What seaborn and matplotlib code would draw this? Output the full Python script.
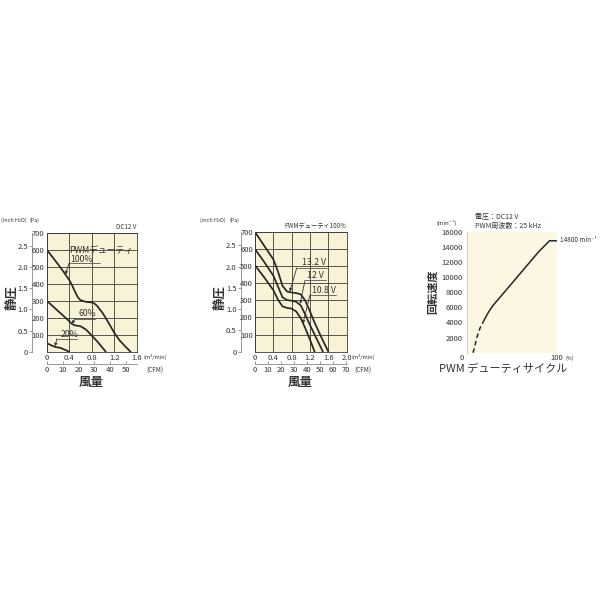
import matplotlib
matplotlib.use("Agg")
import matplotlib.pyplot as plt
import seaborn as sns
import pandas as pd

sns.set_theme(style="white")
plt.rcParams['font.family'] = ['Noto Sans CJK JP', 'DejaVu Sans']

# ---------------- data ----------------
# Panel 1: PWM duty curves (flow m3/min, static pressure Pa)
p1_x_100 = [0, 0.1, 0.2, 0.3, 0.4, 0.45, 0.5, 0.55, 0.6, 0.7, 0.8, 0.85, 0.9, 1.0, 1.1, 1.2, 1.3, 1.4, 1.49]
p1_y_100 = [600, 558, 515, 470, 422, 392, 355, 322, 303, 293, 290, 283, 268, 225, 170, 112, 65, 30, 0]
p1_x_60 = [0, 0.1, 0.2, 0.3, 0.4, 0.45, 0.5, 0.6, 0.7, 0.8, 0.9, 1.0, 1.05]
p1_y_60 = [300, 270, 240, 210, 180, 163, 155, 150, 130, 95, 60, 20, 0]
p1_x_20 = [0, 0.08, 0.15, 0.25, 0.32, 0.4]
p1_y_20 = [50, 38, 28, 22, 12, 0]

# Panel 2: voltage curves at PWM 100%
p2_x_132 = [0, 0.2, 0.4, 0.5, 0.6, 0.7, 0.8, 0.9, 1.0, 1.1, 1.2, 1.3, 1.4, 1.5, 1.6]
p2_y_132 = [700, 620, 540, 470, 385, 352, 346, 343, 335, 297, 235, 170, 112, 55, 0]
p2_x_12 = [0, 0.2, 0.4, 0.5, 0.6, 0.7, 0.8, 0.9, 1.0, 1.1, 1.2, 1.3, 1.4, 1.48]
p2_y_12 = [600, 525, 445, 382, 318, 302, 298, 292, 270, 215, 155, 100, 45, 0]
p2_x_108 = [0, 0.2, 0.4, 0.5, 0.6, 0.7, 0.8, 0.9, 1.0, 1.1, 1.2, 1.3]
p2_y_108 = [505, 435, 360, 305, 265, 256, 252, 235, 195, 135, 70, 0]

# Panel 3: speed vs PWM duty
p3_dash_x = [7, 9, 11, 13, 15, 18]
p3_dash_y = [0, 800, 1900, 2700, 3300, 4000]
p3_solid_x = [18, 22, 26, 30, 35, 40, 50, 60, 70, 80, 92, 100]
p3_solid_y = [4000, 4900, 5700, 6350, 7050, 7750, 9150, 10550, 11950, 13350, 14800, 14800]

PA_PER_INCH = 249.09
CFM_PER_M3 = 35.315

TXT = '#333333'
LINE = '#262626'
CREAM = '#F8F3D6'
CREAM3 = '#FBF7E3'

fig = plt.figure(figsize=(6, 6), dpi=100)
fig.patch.set_facecolor('white')


def px_ax(left, top, right, bottom):
    return fig.add_axes([left / 600, 1 - bottom / 600, (right - left) / 600, (bottom - top) / 600])


def ft(x, y, s, **kw):
    kw.setdefault('color', TXT)
    kw.setdefault('va', 'center')
    fig.text(x / 600, 1 - y / 600, s, **kw)


def style_pq(ax, xmax, xt, cfm_ticks, spine_loc):
    ax.set_facecolor(CREAM)
    ax.set_xlim(0, xmax)
    ax.set_ylim(0, 700)
    ax.set_xticks(xt)
    ax.set_xticklabels(['0'] + [f'{v:.1f}' for v in xt[1:]])
    ax.set_yticks(list(range(0, 701, 100)))
    ax.set_yticklabels([''] + [str(v) for v in range(100, 701, 100)])
    ax.grid(True, color='#3a3a3a', lw=0.6)
    for s in ax.spines.values():
        s.set_color('#3a3a3a')
        s.set_linewidth(0.6)
    ax.tick_params(length=0, labelsize=5.5, pad=1.5, colors=TXT)
    ax.set_xlabel('')
    ax.set_ylabel('')
    sy = ax.secondary_yaxis(spine_loc, functions=(lambda p: p / PA_PER_INCH, lambda i: i * PA_PER_INCH))
    sy.set_yticks([0, 0.5, 1.0, 1.5, 2.0, 2.5])
    sy.set_yticklabels(['0', '0.5', '1.0', '1.5', '2.0', '2.5'])
    sy.spines['left'].set_color('#8a8a8a')
    sy.spines['left'].set_linewidth(0.6)
    sy.tick_params(length=2, width=0.6, color='#8a8a8a', pad=1, labelsize=5.5, labelcolor=TXT)
    sx = ax.secondary_xaxis(-0.103, functions=(lambda m: m * CFM_PER_M3, lambda c: c / CFM_PER_M3))
    sx.set_xticks(cfm_ticks)
    sx.set_xticklabels([str(v) for v in cfm_ticks])
    sx.spines['bottom'].set_color('#8a8a8a')
    sx.spines['bottom'].set_linewidth(0.6)
    sx.tick_params(direction='in', length=2, width=0.6, color='#8a8a8a', pad=1.5, labelsize=5.5, labelcolor=TXT)


def leader(ax, text_xy, text, under_x0, under_x1, under_y, tip_xy, size):
    ax.text(text_xy[0], text_xy[1], text, fontsize=size, color=TXT, va='center', ha='left')
    ax.plot([under_x0, under_x1], [under_y, under_y], color='#555555', lw=0.6)
    ax.annotate('', xy=tip_xy, xytext=(under_x0, under_y),
                arrowprops=dict(arrowstyle='-|>', color='#333333', lw=0.6,
                                mutation_scale=4, shrinkA=0, shrinkB=0))


# ---------------- Panel 1 ----------------
ax1 = px_ax(46.7, 232.7, 136.7, 351.7)
for xs, ys in [(p1_x_100, p1_y_100), (p1_x_60, p1_y_60), (p1_x_20, p1_y_20)]:
    sns.lineplot(x=xs, y=ys, ax=ax1, color=LINE, lw=1.25, sort=False)
style_pq(ax1, 1.6, [0, 0.4, 0.8, 1.2, 1.6], [0, 10, 20, 30, 40, 50], -0.163)
ax1.text(0.405, 598, 'PWMデューティ', fontsize=6.3, color=TXT, va='center', ha='left')
leader(ax1, (0.415, 545), '100%', 0.40, 0.95, 523, (0.335, 455), 6.3)
leader(ax1, (0.56, 222), '60%', 0.50, 0.86, 192, (0.45, 165), 6.3)
leader(ax1, (0.24, 102), '20%', 0.18, 0.53, 76, (0.15, 32), 6.3)

ft(1, 220, '(inch H₂O)', fontsize=3.9, ha='left')
ft(30, 220, '(Pa)', fontsize=3.9, ha='left')
ft(136, 227, 'DC12 V', fontsize=4.5, ha='right')
ft(11.5, 297, '静圧', fontsize=9, rotation=90, ha='center', fontweight='bold')
ft(91, 382, '風量', fontsize=9, ha='center', fontweight='bold')
ft(144, 356.5, '(m³/min)', fontsize=4, ha='left')
ft(146, 370.5, '(CFM)', fontsize=4.5, ha='left')

# ---------------- Panel 2 ----------------
ax2 = px_ax(255, 232, 346.7, 351.7)
for xs, ys in [(p2_x_132, p2_y_132), (p2_x_12, p2_y_12), (p2_x_108, p2_y_108)]:
    sns.lineplot(x=xs, y=ys, ax=ax2, color=LINE, lw=1.25, sort=False)
style_pq(ax2, 2.0, [0, 0.4, 0.8, 1.2, 1.6, 2.0], [0, 10, 20, 30, 40, 50, 60, 70], -0.156)
leader(ax2, (1.02, 521), '13.2 V', 0.91, 1.57, 490, (0.76, 352), 6.3)
leader(ax2, (1.13, 443), '12 V', 1.09, 1.55, 417, (0.985, 280), 6.3)
leader(ax2, (1.24, 360), '10.8 V', 1.20, 1.76, 333, (1.045, 165), 6.3)

ft(200, 220, '(inch H₂O)', fontsize=3.9, ha='left')
ft(229, 220, '(Pa)', fontsize=3.9, ha='left')
ft(346, 226, 'PWMデューティ100%', fontsize=4.5, ha='right')
ft(220, 297, '静圧', fontsize=9, rotation=90, ha='center', fontweight='bold')
ft(300, 382, '風量', fontsize=9, ha='center', fontweight='bold')
ft(352, 356.5, '(m³/min)', fontsize=4, ha='left')
ft(354, 370.5, '(CFM)', fontsize=4.5, ha='left')

# ---------------- Panel 3 ----------------
ax3 = px_ax(466.7, 231.7, 556.7, 352.7)
ax3.set_facecolor(CREAM3)
sns.lineplot(x=p3_dash_x, y=p3_dash_y, ax=ax3, color=LINE, lw=1.1, linestyle=(0, (3, 2)), sort=False)
sns.lineplot(x=p3_solid_x, y=p3_solid_y, ax=ax3, color=LINE, lw=1.1, sort=False)
ax3.set_xlim(0, 100)
ax3.set_ylim(0, 16000)
ax3.set_yticks(list(range(2000, 16001, 2000)))
ax3.set_yticklabels([str(v) for v in range(2000, 16001, 2000)])
ax3.set_xticks([0, 20, 40, 60, 80, 100])
ax3.set_xticklabels([''] * 6)
for s in ax3.spines.values():
    s.set_visible(False)
ax3.spines['left'].set_visible(True)
ax3.spines['left'].set_color('#cfcab0')
ax3.spines['left'].set_linewidth(0.6)
ax3.tick_params(axis='y', length=1.5, width=0.5, color='#999999', pad=1.5, labelsize=5.5, labelcolor=TXT)
ax3.tick_params(axis='x', direction='in', length=2, width=0.5, color='#999999', pad=1)
ax3.set_xlabel('')
ax3.set_ylabel('')

ft(461.5, 357.5, '0', fontsize=5.5, ha='center')
ft(556.7, 357.5, '100', fontsize=5.5, ha='center')
ft(565, 358, '(%)', fontsize=3.8, ha='left')
ft(447, 222.5, '(min⁻¹)', fontsize=4.3, ha='center')
ft(475, 216.5, '電圧：DC12 V', fontsize=5, ha='left')
ft(475, 225.5, 'PWM周波数：25 kHz', fontsize=5, ha='left')
ft(560, 240.5, '14800 min⁻¹', fontsize=4.6, ha='left')
ft(433, 292, '回転速度', fontsize=8, rotation=90, ha='center', fontweight='bold')
ft(503, 369, 'PWM デューティサイクル', fontsize=8, ha='center')

fig.savefig('out.png', dpi=100, facecolor='white')
